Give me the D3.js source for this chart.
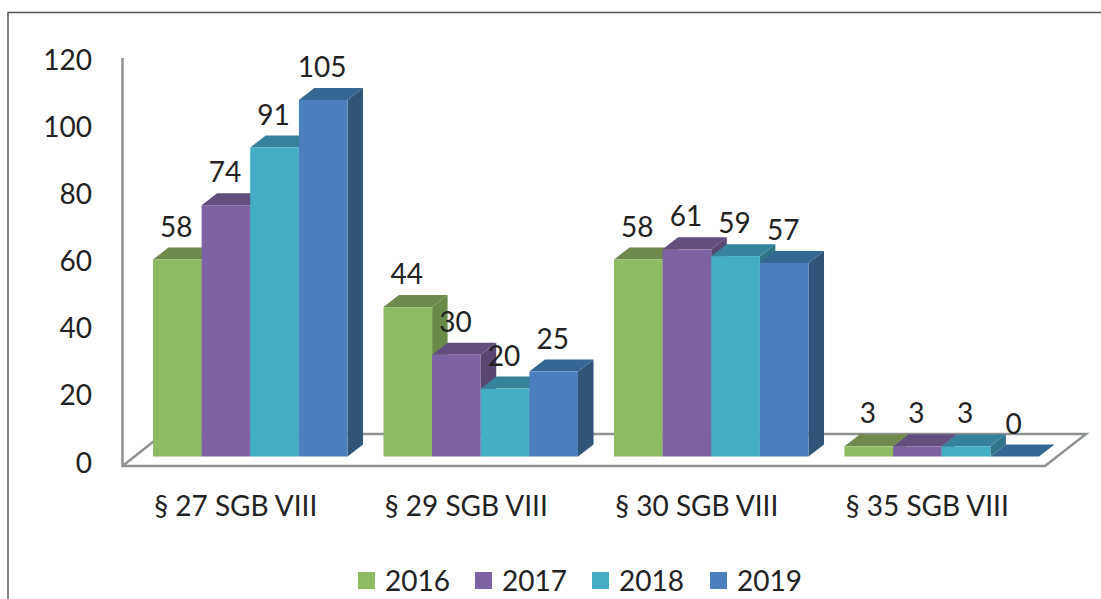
<!DOCTYPE html>
<html><head><meta charset="utf-8">
<script src="https://cdn.jsdelivr.net/npm/d3@7"></script>
<style>html,body{margin:0;padding:0;background:#fff;overflow:hidden}svg{display:block}text{font-family:Lato,"Noto Sans",sans-serif;fill:#222}</style>
</head><body><svg id="c" width="1101" height="599"></svg>
<script>
const categories = ["§ 27 SGB VIII","§ 29 SGB VIII","§ 30 SGB VIII","§ 35 SGB VIII"];
const years = ["2016","2017","2018","2019"];
const values2016 = [58,44,58,3];
const values2017 = [74,30,61,3];
const values2018 = [91,20,59,3];
const values2019 = [105,25,57,0];
const series = [values2016,values2017,values2018,values2019];
const frontColors = ["#8FBB63","#7D63A3","#43ADC6","#4C7FBE"];
const topColors = ["#6F8A4C","#624F80","#35829A","#356795"];
const sideColors = ["#6A8A47","#594673","#2F7488","#2F5578"];
const yTicks = [0,20,40,60,80,100,120];

const svg = d3.select("#c");
const dx = 15.5, dy = 12;
const x0 = d3.scaleBand().domain(categories).range([135,1057]).paddingInner(0.156).paddingOuter(0.078);
const x1 = d3.scaleBand().domain(years).range([0,x0.bandwidth()]);
const y = d3.scaleLinear().domain([0,120]).range([456.5,49]);
const yLabel = d3.scaleLinear().domain([0,120]).range([462,59]);

// outer frame
svg.append("path").attr("d","M8,599V12.5H1101").attr("fill","none").attr("stroke","#555").attr("stroke-width",1.5);

// walls and floor
const wall = "#8E9392";
svg.append("path").attr("d","M122.5,58V466H1045L1086,434H163L122.5,466")
  .attr("fill","none").attr("stroke",wall).attr("stroke-width",2.5).attr("stroke-linejoin","miter");

// y axis labels
const ax = svg.append("g").attr("transform","translate(92,0)").call(d3.axisLeft(yLabel).tickValues(yTicks).tickSize(0).tickPadding(0));
ax.select(".domain").remove();
ax.selectAll("text").attr("font-size",28).style("font-family","Lato").attr("fill","#222").attr("dy","0.36em");
ax.selectAll("text").attr("text-anchor","end");

// bars
categories.forEach((cat,ci)=>{
  const g = svg.append("g");
  years.forEach((yr,si)=>{
    const v = series[si][ci];
    const l = x0(cat)+x1(yr), r = l+x1.bandwidth(), t = y(v), b = y(0);
    if (v>0) g.append("path").attr("fill",sideColors[si])
      .attr("d",`M${r},${t}L${r+dx},${t-dy}V${b-dy}L${r},${b}Z`);
    g.append("path").attr("fill",topColors[si])
      .attr("d",`M${l},${t}L${l+dx},${t-dy}H${r+dx}L${r},${t}Z`);
    if (v>0) g.append("rect").attr("x",l).attr("y",t).attr("width",x1.bandwidth()).attr("height",b-t).attr("fill",frontColors[si]);
  });
});

// value labels
categories.forEach((cat,ci)=>{
  years.forEach((yr,si)=>{
    const v = series[si][ci];
    svg.append("text").attr("x",x0(cat)+x1(yr)+x1.bandwidth()/2-1).attr("y",y(v)-33).attr("dy","0.36em")
      .attr("text-anchor","middle").attr("font-size",28).text(v);
  });
});

// category labels
svg.append("g").selectAll("text").data(categories).join("text")
  .attr("x",d=>x0(d)+x0.bandwidth()/2-14.5).attr("y",506).attr("dy","0.36em")
  .attr("text-anchor","middle").attr("font-size",28).text(d=>d);

// legend
const legX = d3.scaleOrdinal().domain(years).range([358,475,592,710]);
const leg = svg.append("g").selectAll("g").data(years).join("g").attr("transform",d=>`translate(${legX(d)},572)`);
leg.append("rect").attr("width",17).attr("height",17).attr("fill",(d,i)=>frontColors[i]);
leg.append("text").attr("x",27).attr("y",19).attr("font-size",28).text(d=>d);
</script></body></html>
